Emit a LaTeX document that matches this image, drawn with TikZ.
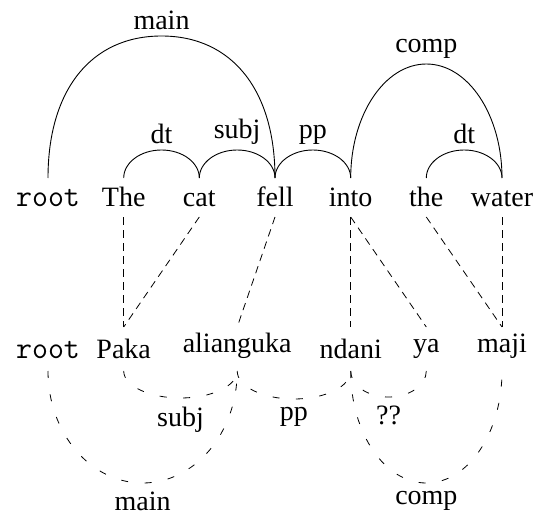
\documentclass[tikz,border=0pt]{standalone}
\usepackage{fontspec}
\setmainfont{Liberation Serif}
\usetikzlibrary{calc}
\begin{document}
\begin{tikzpicture}[x=1pt,y=-1pt,
  every node/.style={font=\fontsize{28}{34}\selectfont},
  word/.style={anchor=south, inner sep=0pt},
  rootword/.style={word, font=\fontsize{31}{36}\selectfont\ttfamily},
  tree/.style={line width=0.9pt},
  alignline/.style={line width=0.8pt, dash pattern=on 7.5pt off 5.5pt},
  darc/.style={line width=0.8pt, dash pattern=on 7pt off 16.5pt},
  arcH/.store in=\arcH, arcH=28,
  arcK/.store in=\arcK, arcK=0.5523,
  dep/.style={to path={
    let \p1=(\tikztostart), \p2=(\tikztotarget), \p3=($(\p1)!0.5!(\p2)$) in
    (\p1) .. controls ({\x1},{\y1+\arcK*\arcH pt}) and ({\x3-\arcK*\x3+\arcK*\x1},{\y1+\arcH pt}) .. ({\x3},{\y1+\arcH pt}) \tikztonodes
    .. controls ({\x3+\arcK*\x2-\arcK*\x3},{\y1+\arcH pt}) and ({\x2},{\y2+\arcK*\arcH pt}) .. (\p2)}},
  uplbl/.style={pos=1, anchor=south, yshift=2pt},
  dnlbl/.style={pos=1, anchor=north, yshift=-5pt},
]
\useasboundingbox (0,0) rectangle (540,516);

% levels
\coordinate (topA) at (0,178);
\coordinate (topL) at (0,217);
\coordinate (botL) at (0,327);
\coordinate (botA) at (0,371);

% English words
\node[rootword] (rootE) at (48,207) {root};
\node[word] (The)   at (123.7,207) {The};
\node[word] (cat)   at (199.3,207) {cat};
\node[word] (fell)  at (275,207) {fell};
\node[word] (into)  at (350.7,207) {into};
\node[word] (the)   at (426.3,207) {the};
\node[word] (water) at (502,207) {water};

% Swahili words
\node[rootword] (rootS) at (48,358.5) {root};
\node[word] (Paka)      at (123.7,358.5) {Paka};
\node[word] (alianguka) at (237.2,358.5) {alianguka};
\node[word] (ndani)     at (350.7,358.5) {ndani};
\node[word] (ya)        at (426.3,358.5) {ya};
\node[word] (maji)      at (502,358.5) {maji};

% English dependency arcs
\draw[tree, dep, arcH=142, arcK=0.62] (rootE |- topA) to node[uplbl]{main} (fell |- topA);
\draw[tree, dep] (The |- topA) to node[uplbl]{dt} (cat |- topA);
\draw[tree, dep] (cat |- topA) to node[uplbl]{subj} (fell |- topA);
\draw[tree, dep] (fell |- topA) to node[uplbl]{pp} (into |- topA);
\draw[tree, dep, arcH=114] (into |- topA) to node[uplbl]{comp} (water |- topA);
\draw[tree, dep] (the |- topA) to node[uplbl]{dt} (water |- topA);

% word alignments
\draw[alignline] (The |- topL) -- (Paka |- botL);
\draw[alignline] (cat |- topL) -- (Paka |- botL);
\draw[alignline] (fell |- topL) -- (alianguka |- botL);
\draw[alignline] (into |- topL) -- (ndani |- botL);
\draw[alignline] (into |- topL) -- (ya |- botL);
\draw[alignline] (the |- topL) -- (maji |- botL);
\draw[alignline] (water |- topL) -- (maji |- botL);

% Swahili dependency arcs
\draw[darc, dep, arcH=-112] (rootS |- botA) to node[dnlbl]{main} (alianguka |- botA);
\draw[darc, dep, arcH=-27] (Paka |- botA) to node[dnlbl]{subj} (alianguka |- botA);
\draw[darc, dep, arcH=-28] (alianguka |- botA) to node[dnlbl]{pp} (ndani |- botA);
\draw[darc, dep, arcH=-26] (ndani |- botA) to node[dnlbl]{??} (ya |- botA);
\draw[darc, dep, arcH=-112] (ndani |- botA) to node[dnlbl]{comp} (maji |- botA);
\end{tikzpicture}
\end{document}
